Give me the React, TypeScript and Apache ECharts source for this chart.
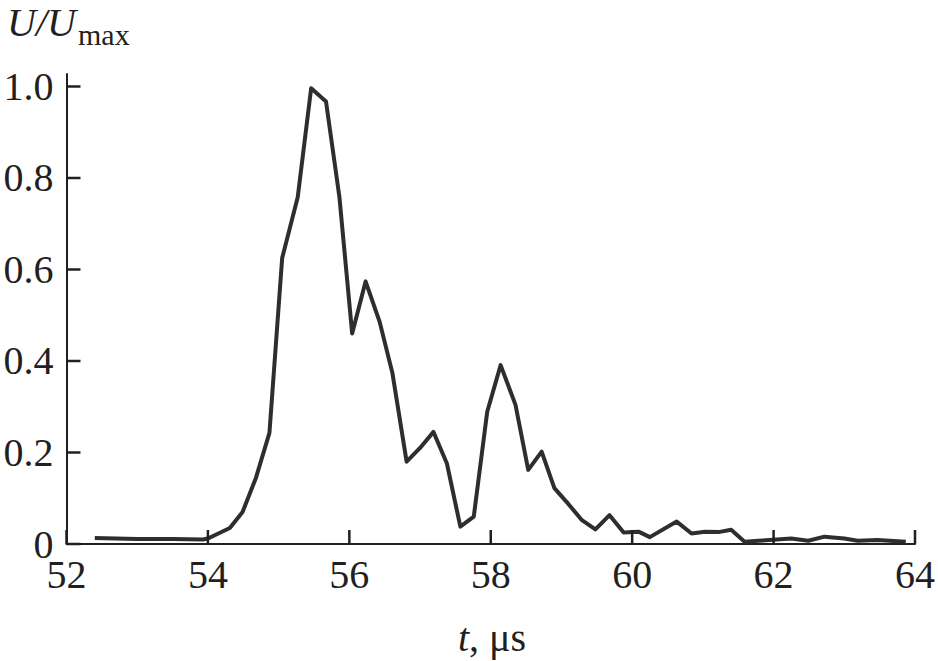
import React, { useEffect, useRef } from "react";
import * as echarts from "echarts";

const timeUs = [
  52.4, 53.0, 53.5, 53.93, 54.0, 54.31, 54.49, 54.68, 54.87, 55.05, 55.27, 55.46, 55.67,
  55.86, 56.04, 56.23, 56.43, 56.61, 56.81, 57.0, 57.19, 57.38, 57.57, 57.76, 57.95,
  58.14, 58.35, 58.53, 58.72, 58.9, 59.1, 59.29, 59.48, 59.68, 59.88, 60.09, 60.25,
  60.63, 60.84, 61.03, 61.22, 61.4, 61.59, 61.78, 62.25, 62.49, 62.72, 63.0, 63.19,
  63.47, 63.87,
];
const amplitude = [
  0.013, 0.011, 0.011, 0.01, 0.012, 0.035, 0.07, 0.145, 0.243, 0.625, 0.758, 0.996, 0.967,
  0.758, 0.46, 0.574, 0.485, 0.373, 0.18, 0.21, 0.245, 0.176, 0.038, 0.06, 0.289,
  0.391, 0.304, 0.162, 0.202, 0.122, 0.087, 0.052, 0.032, 0.063, 0.025, 0.027, 0.015,
  0.049, 0.023, 0.027, 0.026, 0.031, 0.005, 0.007, 0.012, 0.007, 0.016, 0.012, 0.007,
  0.009, 0.005,
];
const xTicks = [52, 54, 56, 58, 60, 62, 64];
const yTicks = [0, 0.2, 0.4, 0.6, 0.8, 1.0];

export default function App() {
  const ref = useRef<HTMLDivElement>(null);
  useEffect(() => {
    if (!ref.current) return;
    const chart = echarts.init(ref.current, null, { renderer: "svg" });
    const serif = "Liberation Serif";
    const axisColor = "#231f20";
    const tickLen = 14;
    chart.setOption({
      animation: false,
      backgroundColor: "#ffffff",
      grid: { left: 66.5, right: 21, top: 74, bottom: 117, containLabel: false },
      xAxis: {
        type: "value",
        min: 52,
        max: 64,
        interval: 2,
        axisLine: { show: true, lineStyle: { color: axisColor, width: 2 } },
        axisTick: { show: false },
        axisLabel: { color: axisColor, fontFamily: serif, fontSize: 40, margin: 10 },
        splitLine: { show: false },
      },
      yAxis: {
        type: "value",
        min: 0,
        max: 1.0273,
        axisLine: { show: true, lineStyle: { color: axisColor, width: 2 } },
        axisTick: { show: false },
        axisLabel: {
          color: axisColor,
          fontFamily: serif,
          fontSize: 40,
          margin: 13,
          align: "right",
          customValues: yTicks,
          formatter: (v: number) => (v === 0 ? "0" : v.toFixed(1)),
        },
        splitLine: { show: false },
      },
      series: [
        {
          type: "line",
          data: timeUs.map((t, i) => [t, amplitude[i]]),
          showSymbol: false,
          symbol: "none",
          lineStyle: { color: "#2e2e2e", width: 4, join: "round" },
          smooth: false,
          z: 3,
        },
      ],
    });

    const graphics: any[] = [
      {
        type: "text",
        x: 7,
        y: 22.5,
        style: {
          text: "U/U",
          fontFamily: serif,
          fontStyle: "italic",
          fontSize: 40,
          fill: axisColor,
          verticalAlign: "middle",
          align: "left",
        },
      },
      {
        type: "text",
        x: 78,
        y: 34,
        style: {
          text: "max",
          fontFamily: serif,
          fontSize: 30,
          fill: axisColor,
          verticalAlign: "middle",
          align: "left",
        },
      },
      {
        type: "text",
        x: 492,
        y: 637,
        style: {
          text: "{i|t}{n|, μs}",
          align: "center",
          verticalAlign: "middle",
          rich: {
            i: { fontFamily: serif, fontStyle: "italic", fontSize: 40, fill: axisColor },
            n: { fontFamily: serif, fontSize: 40, fill: axisColor },
          },
        },
      },
    ];
    xTicks.forEach((v) => {
      const p = chart.convertToPixel({ xAxisIndex: 0 }, v) as number;
      graphics.push({
        type: "line",
        z: 10,
        shape: { x1: p, y1: 544, x2: p, y2: 544 - tickLen },
        style: { stroke: axisColor, lineWidth: 2.5 },
      });
    });
    yTicks.forEach((v) => {
      const p = chart.convertToPixel({ yAxisIndex: 0 }, v) as number;
      graphics.push({
        type: "line",
        z: 10,
        shape: { x1: 66.5, y1: p, x2: 66.5 + tickLen, y2: p },
        style: { stroke: axisColor, lineWidth: 2.5 },
      });
    });
    chart.setOption({ graphic: graphics });
    return () => chart.dispose();
  }, []);
  return (
    <div
      ref={ref}
      style={{ position: "fixed", left: 0, top: 0, width: 938, height: 661, background: "#fff" }}
    />
  );
}
